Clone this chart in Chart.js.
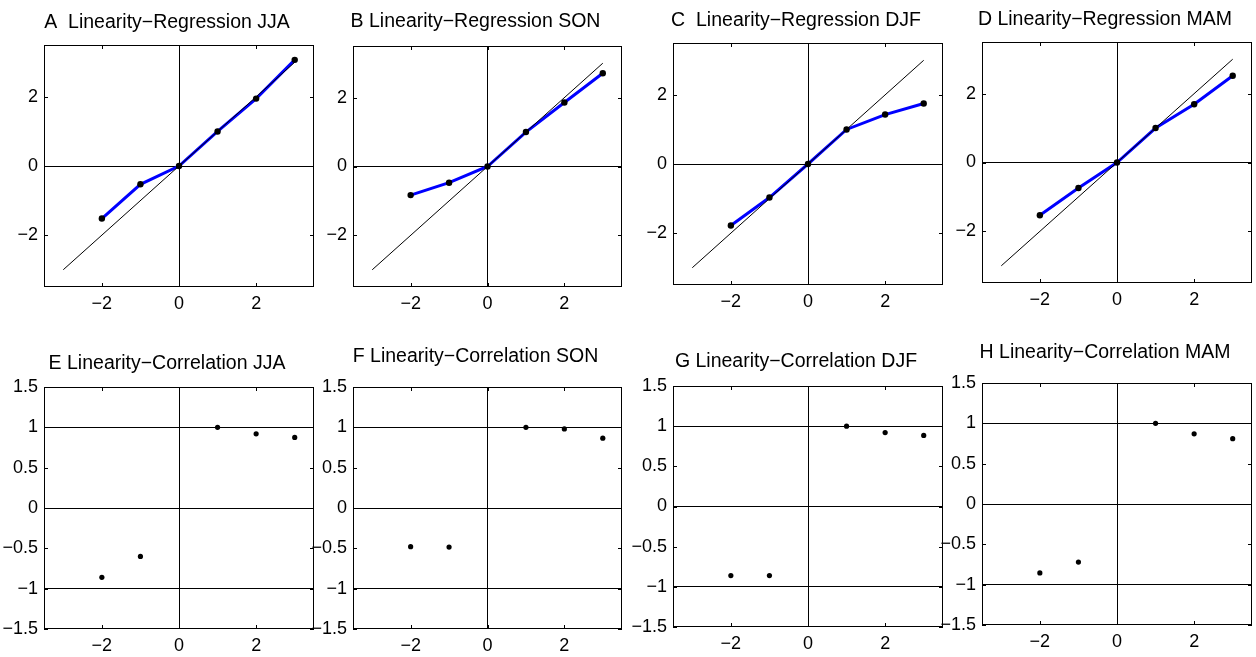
<!DOCTYPE html>
<html>
<head>
<meta charset="utf-8">
<title>Linearity panels</title>
<script src="https://cdn.jsdelivr.net/npm/chart.js@4.4.1/dist/chart.umd.min.js"></script>
<style>
  html, body { margin: 0; padding: 0; background: #fff; overflow: hidden; }
  #wrap { position: relative; width: 1256px; height: 657px; }
  #wrap canvas { position: absolute; }
</style>
</head>
<body>
<div id="wrap"></div>
<script>
// ---- data ----
const xValues = [-2, -1, 0, 1, 2, 3];
const corrXValues = [-2, -1, 1, 2, 3];

// regression panels (A-D)
const regJJA = [-1.52, -0.53, 0, 1.0, 1.95, 3.07];
const regSON = [-0.83, -0.47, 0, 1.0, 1.86, 2.71];
const regDJF = [-1.78, -0.97, 0, 1.0, 1.43, 1.75];
const regMAM = [-1.53, -0.74, 0, 1.0, 1.69, 2.52];

// correlation panels (E-H), nothing at x = 0
const corJJA = [-0.86, -0.60, 1.0, 0.92, 0.875];
const corSON = [-0.48, -0.485, 1.0, 0.98, 0.865];
const corDJF = [-0.86, -0.86, 1.0, 0.92, 0.885];
const corMAM = [-0.855, -0.72, 1.0, 0.87, 0.81];

// 1:1 reference line
const diagonal = [-3, 3];

const xTicks = [-2, 0, 2];
const regYTicks = [-2, 0, 2];
const corYTicks = [-1.5, -1, -0.5, 0, 0.5, 1, 1.5];
const regRefLines = [0];
const corRefLines = [-1, 0, 1];

const titles = [
    'A  Linearity\u2212Regression JJA',
    'B Linearity\u2212Regression SON',
    'C  Linearity\u2212Regression DJF',
    'D Linearity\u2212Regression MAM',
    'E Linearity\u2212Correlation JJA',
    'F Linearity\u2212Correlation SON',
    'G Linearity\u2212Correlation DJF',
    'H Linearity\u2212Correlation MAM'
];

// ---- layout: plot box [left, top, right, bottom] of every panel ----
const panels = [
    { kind: 'reg', values: regJJA, box: [44, 45, 315, 287], gap: 17 },
    { kind: 'reg', values: regSON, box: [353, 46, 623, 287], gap: 19 },
    { kind: 'reg', values: regDJF, box: [673, 43, 944, 285], gap: 17 },
    { kind: 'reg', values: regMAM, box: [982, 42, 1253, 283], gap: 17 },
    { kind: 'cor', values: corJJA, box: [44, 387, 315, 629], gap: 18 },
    { kind: 'cor', values: corSON, box: [353, 387, 623, 629], gap: 25 },
    { kind: 'cor', values: corDJF, box: [673, 386, 944, 627], gap: 19 },
    { kind: 'cor', values: corMAM, box: [982, 383, 1253, 625], gap: 25 }
];

const FONT = '"Liberation Sans", Arial, Helvetica, sans-serif';
const AXIS_W = 50, AXIS_H = 32, TOP = 45, RIGHT = 3, TICK_LEN = 4;

const fmt = (v) => String(v).replace('-', '\u2212');

/* draws the closed box with MATLAB style inward ticks, plus the panel title */
const boxPlugin = {
    id: 'box',
    afterDraw(chart, args, opts) {
        const { ctx, chartArea: a } = chart;
        const xs = chart.scales.x, ys = chart.scales.y;
        ctx.save();
        ctx.strokeStyle = '#000';
        ctx.lineWidth = 1;
        ctx.strokeRect(a.left + 0.5, a.top + 0.5, a.right - a.left - 1, a.bottom - a.top - 1);
        ctx.beginPath();
        xs.ticks.forEach(t => {
            const px = Math.round(xs.getPixelForValue(t.value)) + 0.5;
            ctx.moveTo(px, a.bottom); ctx.lineTo(px, a.bottom - TICK_LEN);
            ctx.moveTo(px, a.top); ctx.lineTo(px, a.top + TICK_LEN);
        });
        ys.ticks.forEach(t => {
            const py = Math.round(ys.getPixelForValue(t.value)) + 0.5;
            ctx.moveTo(a.left, py); ctx.lineTo(a.left + TICK_LEN, py);
            ctx.moveTo(a.right, py); ctx.lineTo(a.right - TICK_LEN, py);
        });
        ctx.stroke();

        ctx.fillStyle = '#000';
        ctx.font = '19.5px ' + FONT;
        ctx.textAlign = 'center';
        ctx.textBaseline = 'alphabetic';
        ctx.fillText(opts.text, (a.left + a.right) / 2 - 12, a.top - opts.gap);
        ctx.restore();
    }
};

const wrap = document.getElementById('wrap');

panels.forEach((p, i) => {
    const [L, T, R, B] = p.box;
    const canvas = document.createElement('canvas');
    canvas.width = (R - L) + AXIS_W + RIGHT;
    canvas.height = (B - T) + TOP + AXIS_H;
    canvas.style.left = (L - AXIS_W) + 'px';
    canvas.style.top = (T - TOP) + 'px';
    wrap.appendChild(canvas);

    const isReg = p.kind === 'reg';
    const xs = isReg ? xValues : corrXValues;
    const points = xs.map((x, k) => ({ x: x, y: p.values[k] }));
    const yTicks = isReg ? regYTicks : corYTicks;
    const refLines = isReg ? regRefLines : corRefLines;

    const datasets = [{
        data: points,
        showLine: false,
        pointRadius: isReg ? 3.2 : 2.6,
        pointBackgroundColor: '#000',
        pointBorderWidth: 0,
        order: 0
    }];
    if (isReg) {
        datasets.push({
            data: diagonal.map(v => ({ x: v, y: v })),
            showLine: true,
            borderColor: '#000',
            borderWidth: 1,
            pointRadius: 0,
            order: 1
        });
        datasets.push({
            data: points,
            showLine: true,
            borderColor: '#0000ff',
            borderWidth: 3,
            pointRadius: 0,
            order: 2
        });
    }

    const tickFont = { family: FONT, size: 18 };

    new Chart(canvas, {
        type: 'scatter',
        data: { datasets: datasets },
        plugins: [boxPlugin],
        options: {
            responsive: false,
            animation: false,
            layout: { padding: { top: TOP, right: RIGHT, left: 0, bottom: 0 } },
            plugins: {
                legend: { display: false },
                tooltip: { enabled: false },
                box: { text: titles[i], gap: p.gap }
            },
            scales: {
                x: {
                    type: 'linear',
                    min: -3.5,
                    max: 3.5,
                    afterBuildTicks: (s) => { s.ticks = xTicks.map(v => ({ value: v })); },
                    afterFit: (s) => { s.height = AXIS_H; },
                    border: { display: false },
                    grid: {
                        drawTicks: false,
                        lineWidth: 1,
                        color: (c) => (c.tick && c.tick.value === 0) ? '#000' : 'rgba(0,0,0,0)'
                    },
                    ticks: { color: '#000', font: tickFont, padding: 6, maxRotation: 0, autoSkip: false, callback: fmt }
                },
                y: {
                    type: 'linear',
                    min: isReg ? -3.5 : -1.5,
                    max: isReg ? 3.5 : 1.5,
                    afterBuildTicks: (s) => { s.ticks = yTicks.map(v => ({ value: v })); },
                    afterFit: (s) => { s.width = AXIS_W; },
                    border: { display: false },
                    grid: {
                        drawTicks: false,
                        lineWidth: 1,
                        color: (c) => (c.tick && refLines.includes(c.tick.value)) ? '#000' : 'rgba(0,0,0,0)'
                    },
                    ticks: { color: '#000', font: tickFont, padding: 6, autoSkip: false, callback: fmt }
                }
            }
        }
    });
});
</script>
</body>
</html>
